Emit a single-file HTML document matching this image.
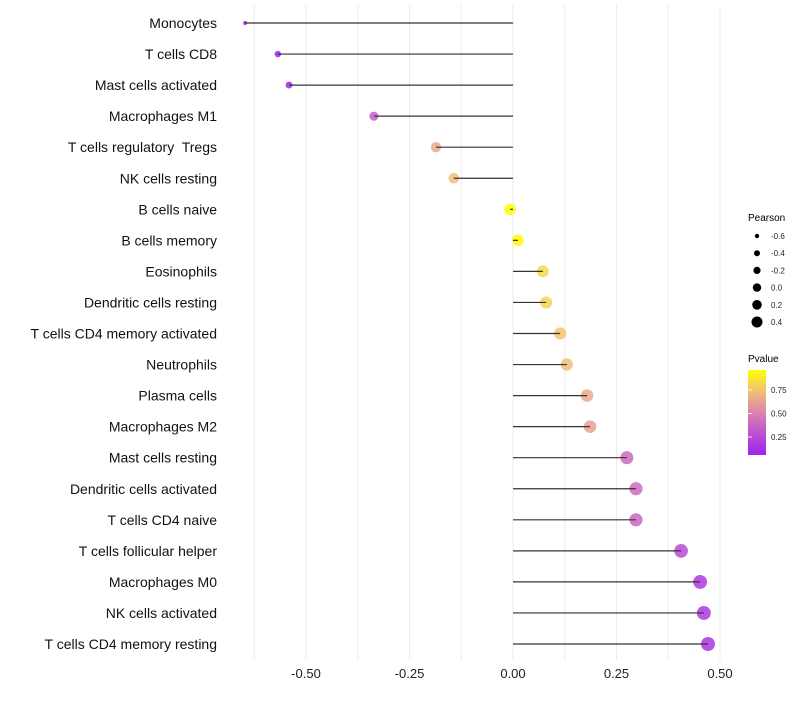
<!DOCTYPE html>
<html><head><meta charset="utf-8"><style>
body{margin:0;background:#fff;font-family:"Liberation Sans",sans-serif}
svg text{font-family:"Liberation Sans",sans-serif;white-space:pre}
</style></head><body>
<svg id="chart" width="800" height="700" xmlns="http://www.w3.org/2000/svg">
<g id="grid"></g>
<g id="marks"></g>
<g id="ylabels"></g>
<g id="xlabels"></g>
<g id="legend-size">
<text x="748" y="221" font-size="10" fill="#000">Pearson</text>
</g>
<g id="legend-color">
<defs><linearGradient id="pg" x1="0" y1="1" x2="0" y2="0">
<stop offset="0" stop-color="#a020f0"/><stop offset="0.35" stop-color="#c865c4"/><stop offset="0.55" stop-color="#e090a0"/><stop offset="0.75" stop-color="#f0c078"/><stop offset="1" stop-color="#ffff00"/>
</linearGradient></defs>
<text x="748" y="362" font-size="10" fill="#000">Pvalue</text>
<rect x="748" y="370" width="18" height="85" fill="url(#pg)"/>
</g>
</svg>
<script>
const categories=["Monocytes","T cells CD8","Mast cells activated","Macrophages M1","T cells regulatory  Tregs","NK cells resting","B cells naive","B cells memory","Eosinophils","Dendritic cells resting","T cells CD4 memory activated","Neutrophils","Plasma cells","Macrophages M2","Mast cells resting","Dendritic cells activated","T cells CD4 naive","T cells follicular helper","Macrophages M0","NK cells activated","T cells CD4 memory resting"];
const pearson=[-0.647,-0.568,-0.541,-0.336,-0.186,-0.143,-0.007,0.012,0.072,0.080,0.114,0.130,0.179,0.186,0.275,0.297,0.297,0.406,0.452,0.461,0.471];
const pvalues=[0.03,0.06,0.09,0.34,0.66,0.72,0.98,0.95,0.82,0.80,0.76,0.73,0.66,0.62,0.40,0.40,0.38,0.25,0.18,0.17,0.16];
const xTicks=[-0.5,-0.25,0,0.25,0.5];
const xTickLabels=["-0.50","-0.25","0.00","0.25","0.50"];
const legendSizes=[-0.6,-0.4,-0.2,0.0,0.2,0.4];
const legendSizeLabels=["-0.6","-0.4","-0.2","0.0","0.2","0.4"];
const pTicks=[0.25,0.5,0.75];
const pTickLabels=["0.25","0.50","0.75"];

const NS="http://www.w3.org/2000/svg";
const xs=v=>513+v*414;
const ys=i=>23+i*31.05;
const rs=v=>1.8+5.2*Math.sqrt(Math.max(0,v+0.65)/1.12);
const stops=[[0,[160,32,240]],[0.35,[200,101,196]],[0.55,[224,144,160]],[0.75,[240,192,120]],[1,[255,255,0]]];
function col(p){const t=(p-0.06)/(0.96-0.06);const c=Math.max(0,Math.min(1,t));
for(let k=1;k<stops.length;k++){if(c<=stops[k][0]){const a=stops[k-1],b=stops[k];const f=(c-a[0])/(b[0]-a[0]);
return "rgb("+a[1].map((x,j)=>Math.round(x+(b[1][j]-x)*f)).join(",")+")";}}return "rgb(255,255,0)";}
function mk(tag,attrs,parent){const e=document.createElementNS(NS,tag);for(const k in attrs)e.setAttribute(k,attrs[k]);parent.appendChild(e);return e;}

const grid=document.getElementById('grid');
for(let v=-0.625;v<=0.55;v+=0.125){
 const l=mk('line',{x1:xs(v),x2:xs(v),y1:5,y2:660,stroke:'#ebebeb','stroke-width':1},grid);
 
 
}
const xl=document.getElementById('xlabels');
xTicks.forEach((v,i)=>{
 const t=mk('text',{x:xs(v),y:678,'font-size':13,'text-anchor':'middle',fill:'#222'},xl);
 t.textContent=xTickLabels[i];
 
 
});
const marks=document.getElementById('marks'),yl=document.getElementById('ylabels');
categories.forEach((c,i)=>{
 const y=ys(i),v=pearson[i];
 const t=mk('text',{x:217,y:y+5,'font-size':14,'text-anchor':'end',fill:'#111'},yl);
 t.textContent=c;
 
 
 const d=mk('circle',{cx:xs(v),cy:y,r:rs(v),fill:col(pvalues[i]),'fill-opacity':0.85},marks);
 
 
 const s=mk('line',{x1:xs(0),x2:xs(v),y1:y,y2:y,stroke:'#333','stroke-width':1.2},marks);
 
 
});
const ls=document.getElementById('legend-size');
const lr=[2.2,3,3.6,4.2,4.8,5.5];
legendSizes.forEach((v,i)=>{
 const y=236+i*17.2;
 const c=mk('circle',{cx:757,cy:y,r:lr[i],fill:'#000'},ls);
 
 
 const t=mk('text',{x:771,y:y+3,'font-size':8,fill:'#222'},ls);
 t.textContent=legendSizeLabels[i];
 
 
});
const lc=document.getElementById('legend-color');
pTicks.forEach((p,i)=>{
 const y=455-(p-0.06)/(0.96-0.06)*85;
 const l1=mk('line',{x1:748,x2:752,y1:y,y2:y,stroke:'#fff','stroke-width':0.8},lc);
 
 
 const t=mk('text',{x:771,y:y+3,'font-size':8,fill:'#222'},lc);
 t.textContent=pTickLabels[i];
 
 
});
</script>
</body></html>
